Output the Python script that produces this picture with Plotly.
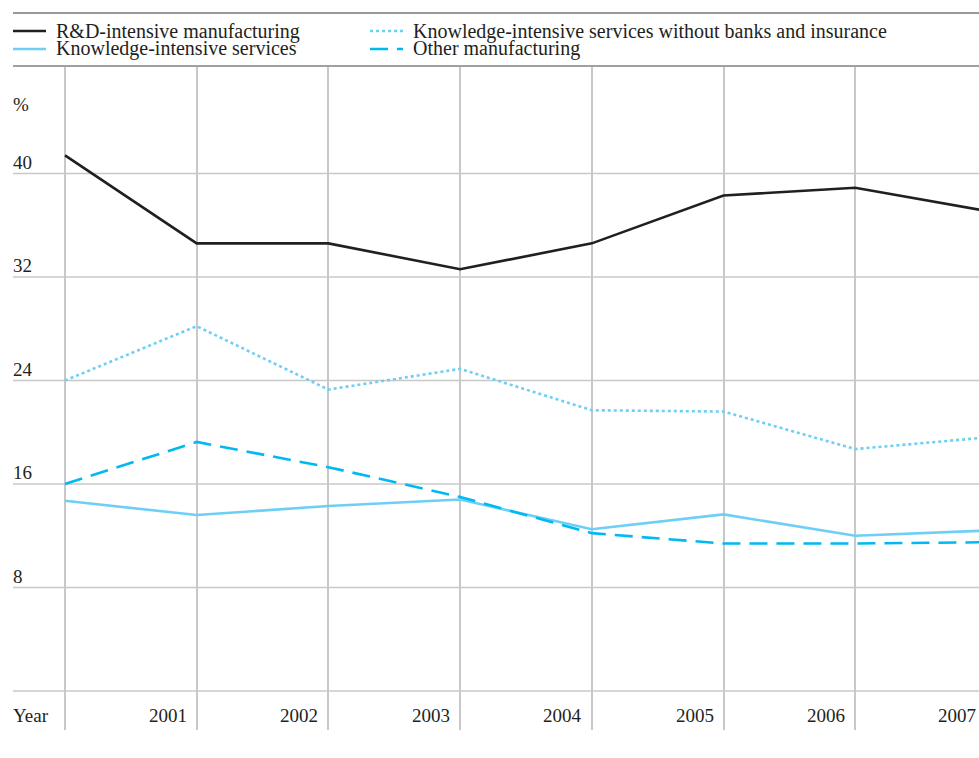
import plotly.graph_objects as go

# data (share in %)
years = [2000, 2001, 2002, 2003, 2004, 2005, 2006, 2007]
rd_manuf = [41.4, 34.6, 34.6, 32.6, 34.6, 38.3, 38.9, 37.1]
kis_wo_banks = [24.0, 28.2, 23.3, 24.9, 21.7, 21.6, 18.7, 19.6]
kis = [14.7, 13.6, 14.3, 14.8, 12.5, 13.65, 12.0, 12.4]
other_manuf = [16.0, 19.25, 17.3, 15.0, 12.2, 11.4, 11.4, 11.5]

y_ticks = [8, 16, 24, 32, 40]
grid_vals = [0, 8, 16, 24, 32, 40]
year_labels = ["2001", "2002", "2003", "2004", "2005", "2006", "2007"]

W, H = 979, 758
TOP, BOT = 66, 730
FONT = "Liberation Serif"
TXT = "#231f20"
GRID = "#c8c8c8"
BLUE = "#6dcff6"
CYAN = "#00b9f2"
YEAR_PX = 131.7  # px per year
X2000 = 65       # x of year 2000


def px_x(p):
    return p / W


def px_y(p):
    return (BOT - p) / (BOT - TOP)


fig = go.Figure()
series = [
    ("R&D-intensive manufacturing", rd_manuf, TXT, "solid"),
    ("Knowledge-intensive services without banks and insurance", kis_wo_banks, BLUE, "dot"),
    ("Knowledge-intensive services", kis, BLUE, "solid"),
    ("Other manufacturing", other_manuf, CYAN, "18px,9px"),
]
for name, vals, col, dash in series:
    fig.add_trace(go.Scatter(x=years, y=vals, name=name, mode="lines",
                             line=dict(color=col, width=2.6, dash=dash),
                             showlegend=False))

shapes = []
for v in grid_vals:
    shapes.append(dict(type="line", xref="paper", yref="y", x0=px_x(13), x1=1,
                       y0=v, y1=v, line=dict(color=GRID, width=1.5), layer="below"))
# top rule and legend separator
shapes.append(dict(type="line", xref="paper", yref="paper", x0=px_x(13), x1=1,
                   y0=px_y(13), y1=px_y(13), line=dict(color="#333333", width=1.2)))
shapes.append(dict(type="line", xref="paper", yref="paper", x0=px_x(13), x1=1,
                   y0=px_y(66), y1=px_y(66), line=dict(color="#a0a0a0", width=2)))

annotations = []
for v in y_ticks:
    annotations.append(dict(text=str(v), xref="paper", yref="y", x=px_x(11), y=v,
                            xanchor="left", yanchor="bottom", yshift=-1, showarrow=False,
                            font=dict(family=FONT, size=19, color=TXT)))
annotations.append(dict(text="%", xref="paper", yref="paper", x=px_x(11), y=px_y(104),
                        xanchor="left", yanchor="middle", showarrow=False,
                        font=dict(family=FONT, size=19, color=TXT)))
annotations.append(dict(text="Year", xref="paper", yref="paper", x=px_x(11), y=px_y(715),
                        xanchor="left", yanchor="middle", showarrow=False,
                        font=dict(family=FONT, size=19, color=TXT)))
# year labels sit right-aligned just left of their gridline (paper coords so 2007 shows)
for yr, lab in zip(years[1:], year_labels):
    gx = X2000 + (yr - 2000) * YEAR_PX
    annotations.append(dict(text=lab, xref="paper", yref="paper", x=min(px_x(gx - 8), px_x(978)),
                            y=px_y(715), xanchor="right", yanchor="middle", showarrow=False,
                            font=dict(family=FONT, size=19, color=TXT)))

# legend drawn by hand, two columns
legend_pos = [(13, 31), (370, 31), (13, 49), (370, 49)]
for (name, vals, col, dash), (lx, ly) in zip(series, legend_pos):
    shapes.append(dict(type="line", xref="paper", yref="paper",
                       x0=px_x(lx), x1=px_x(lx + 33), y0=px_y(ly), y1=px_y(ly),
                       line=dict(color=col, width=2.6, dash=dash)))
    annotations.append(dict(text=name, xref="paper", yref="paper", x=px_x(lx + 41),
                            y=px_y(ly), xanchor="left", yanchor="middle", showarrow=False,
                            font=dict(family=FONT, size=20, color=TXT)))

x0 = 2000 - X2000 / YEAR_PX
x1 = x0 + W / YEAR_PX
# y range: 0 at y=691, 8 units = 103.5 px
ppu = 103.5 / 8
y_hi = (691 - TOP) / ppu
y_lo = -(BOT - 691) / ppu

fig.update_layout(
    width=W, height=H,
    margin=dict(l=0, r=0, t=TOP, b=H - BOT),
    plot_bgcolor="white", paper_bgcolor="white",
    xaxis=dict(range=[x0, x1], tickvals=years, showticklabels=False,
               showgrid=True, gridcolor=GRID, gridwidth=1.5, zeroline=False,
               showline=False, fixedrange=True),
    yaxis=dict(range=[y_lo, y_hi], showgrid=False, showticklabels=False,
               zeroline=False, showline=False, fixedrange=True),
    shapes=shapes,
    annotations=annotations,
    showlegend=False,
)

# drop the default page margin so the figure fills the window
fig.write_html("out.html", config={"displayModeBar": False},
               post_script="document.body.style.margin='0';")
